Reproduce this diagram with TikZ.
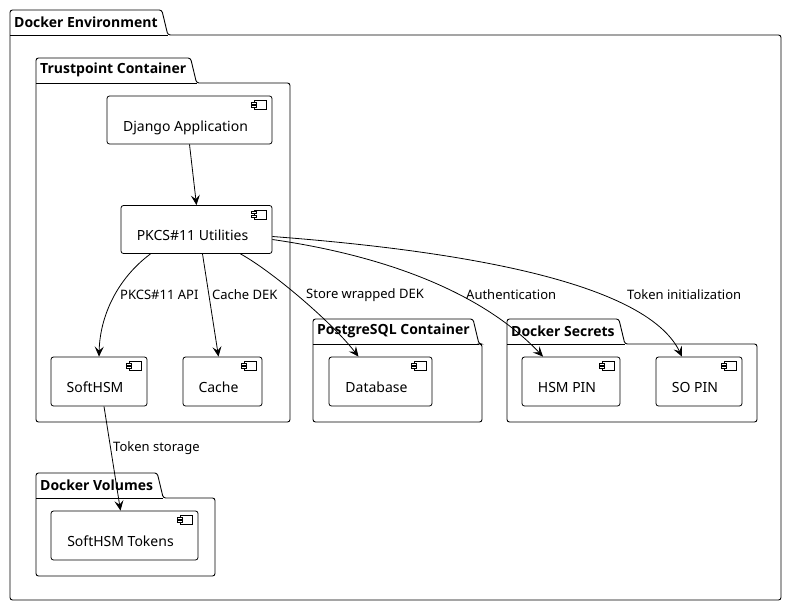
\documentclass[tikz,border=0pt]{standalone}
\usepackage{fontspec}
\setmainfont{Noto Sans}
\newfontfamily\titlefont{Open Sans}
\usetikzlibrary{calc,arrows.meta}

\begin{document}
\begin{tikzpicture}[x=1pt,y=-1pt,>={Stealth[length=10pt,width=9pt,inset=4pt]},
  pkgline/.style={line width=0.9pt,rounded corners=2.5pt},
  pkgtitle/.style={anchor=west,inner sep=0pt,font=\titlefont\fontsize{14}{16}\selectfont\bfseries},
  comp/.style={draw,line width=0.8pt,rounded corners=2.5pt,fill=white,minimum height=48pt,inner sep=0pt,text height=23pt,text depth=1pt,font=\fontsize{14}{16}\selectfont},
  icon/.style={line width=0.7pt},
  link/.style={->,line width=0.8pt},
  lbl/.style={anchor=west,inner sep=0pt,font=\fontsize{13}{15}\selectfont}]
  \fill[white] (0,0) rectangle (787,606);
  % packages: tab with title, then body
  \foreach \nm/\xa/\ya/\xb/\yb/\ttl in {env/10/10/781/600/Docker Environment,
      trust/36/58/290/422/Trustpoint Container, pg/313/319/482/422/PostgreSQL Container,
      secrets/507/319/757/422/Docker Secrets, volumes/36/473/215/576/Docker Volumes} {
    \node[pkgtitle] (\nm) at (\xa+4,\ya+12) {\ttl};
    \path (\nm.east); \pgfgetlastxy{\ex}{\ey}
    \pgfmathsetmacro{\tb}{min(\ex+10,\xb-3)}
    \pgfmathsetmacro{\ta}{\tb-6}
    \draw[pkgline] (\xa,\ya+25) -- (\xa,\ya) -- (\ta,\ya) -- (\tb,\ya+25) -- (\xb,\ya+25) -- (\xb,\yb) -- (\xa,\yb) -- cycle;
    \draw[pkgline] (\xa,\ya+25) -- (\tb,\ya+25);
  }
  % components
  \node[comp,minimum width=165] (django) at (189.5,120) {Django Application\kern8pt};
  \node[comp,minimum width=151] (pkcs) at (196.5,229.5) {PKCS\#11 Utilities\kern8pt};
  \node[comp,minimum width=96,minimum height=49] (softhsm) at (99,381.5) {SoftHSM\kern8pt};
  \node[comp,minimum width=79,minimum height=49] (cache) at (222.5,381.5) {Cache\kern8pt};
  \node[comp,minimum width=103,minimum height=49] (db) at (380.5,381.5) {Database\kern8pt};
  \node[comp,minimum width=98,minimum height=49] (hsmpin) at (571,381.5) {HSM PIN\kern8pt};
  \node[comp,minimum width=86,minimum height=49] (sopin) at (699,381.5) {SO PIN\kern8pt};
  \node[comp,minimum width=147,minimum height=49] (tokens) at (124.5,535.5) {SoftHSM Tokens\kern8pt};
  \foreach \c in {django,pkcs,softhsm,cache,db,hsmpin,sopin,tokens} {
    \draw[icon] ([shift={(-18,5)}]\c.north east) rectangle ++(12,9);
    \draw[icon,fill=white] ([shift={(-21,6.5)}]\c.north east) rectangle ++(5,2);
    \draw[icon,fill=white] ([shift={(-21,10)}]\c.north east) rectangle ++(5,2);
  }
  % connectors
  \draw[link] (django.south) -- (pkcs.north);
  \draw[link] ([xshift=-46]pkcs.south) .. controls (118,278) and (100,315) .. (softhsm.north);
  \draw[link] ([xshift=6]pkcs.south) -- ([xshift=-4]cache.north);
  \draw[link] ([xshift=44]pkcs.south) .. controls (270,270) and (330,320) .. ([xshift=-22]db.north);
  \draw[link] ([yshift=-10]pkcs.east) .. controls (380,255) and (480,290) .. ([xshift=-28]hsmpin.north);
  \draw[link] ([yshift=-7]pkcs.east) .. controls (450,250) and (645,280) .. ([xshift=-17]sopin.north);
  \draw[link] ([xshift=5]softhsm.south) -- ([xshift=-4]tokens.north);
  % labels
  \node[lbl] (l-api) at (120,295) {PKCS\#11 API};
  \node[lbl] (l-cache) at (212,295) {Cache DEK};
  \node[lbl] (l-store) at (306,295) {Store wrapped DEK};
  \node[lbl] (l-auth) at (466,295) {Authentication};
  \node[lbl] (l-init) at (627,295) {Token initialization};
  \node[lbl] (l-tok) at (113,448) {Token storage};
\end{tikzpicture}
\end{document}
